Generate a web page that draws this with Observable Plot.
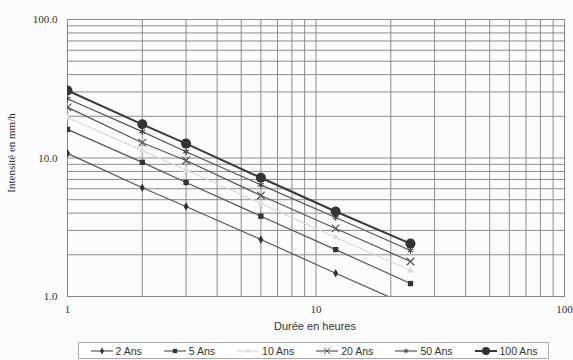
<!DOCTYPE html>
<html><head><meta charset="utf-8">
<script src="https://cdn.jsdelivr.net/npm/d3@7"></script>
<script src="https://cdn.jsdelivr.net/npm/@observablehq/plot@0.6"></script>
<style>
body{margin:0;background:#fcfcfc;width:573px;height:360px;overflow:hidden;position:relative}
#chart svg{background:transparent;display:block}
#chart svg g[aria-label$="tick label"] text, #chart svg g[aria-label$="tick label"]{font-family:"Liberation Serif",serif !important;font-size:11px !important}
#legend{position:absolute;left:78px;top:342px;width:471px;height:17px;border:1px solid #aaa;box-sizing:border-box;display:flex;align-items:center;justify-content:space-around;font:10.5px "Liberation Sans",Arial,sans-serif;color:#333;background:#fff}
#legend span{display:flex;align-items:center;white-space:nowrap}
.ylab{font-family:"Liberation Serif",serif;font-size:11px;fill:#333}
.xlab{font-family:"Liberation Sans",sans-serif;font-size:11px;fill:#333}
</style></head><body>
<div id="chart"></div><div id="legend"></div>
<script>
const durations = [1, 2, 3, 6, 12, 24];
const seriesNames = ["2 Ans", "5 Ans", "10 Ans", "20 Ans", "50 Ans", "100 Ans"];
const ans2   = [10.8, 6.1, 4.47, 2.58, 1.47, 0.85];
const ans5   = [16.1, 9.3, 6.65, 3.8, 2.18, 1.24];
const ans10  = [19.6, 11.3, 8.2, 4.7, 2.67, 1.54];
const ans20  = [23.2, 12.9, 9.6, 5.36, 3.1, 1.79];
const ans50  = [26.8, 15.5, 11.1, 6.4, 3.72, 2.15];
const ans100 = [30.7, 17.5, 12.7, 7.2, 4.11, 2.41];
const xTicks = [1, 10, 100];
const yTicks = [1, 10, 100];
const xGrid = [1,2,3,4,5,6,7,8,9,10,20,30,40,50,60,70,80,90,100];
const yGrid = [1,2,3,4,5,6,7,8,9,10,20,30,40,50,60,70,80,90,100];

const values = [ans2, ans5, ans10, ans20, ans50, ans100];
const styles = [
  {symbol: "diamond", r: 2.6, fill: "#333", stroke: "none", line: "#555", width: 1.2},
  {symbol: "square", r: 3, fill: "#333", stroke: "none", line: "#555", width: 1.2},
  {symbol: "triangle", r: 2.5, fill: "#ddd", stroke: "none", line: "#dadada", width: 1.2},
  {symbol: "times", r: 3.5, fill: "none", stroke: "#555", line: "#555", width: 1.2},
  {symbol: "asterisk", r: 3, fill: "none", stroke: "#444", line: "#555", width: 1.2},
  {symbol: "circle", r: 5, fill: "#333", stroke: "none", line: "#3a3a3a", width: 2}
];

const serif = "Liberation Serif";
const marks = [
  Plot.ruleX(xGrid, {stroke: "#8c8c8c", strokeWidth: 1, strokeOpacity: 1}),
  Plot.ruleY(yGrid, {stroke: "#8c8c8c", strokeWidth: 1, strokeOpacity: 1}),
  Plot.frame({stroke: "#888"})
];
seriesNames.forEach((name, i) => {
  const data = durations.map((d, j) => ({d, v: values[i][j], s: name}));
  const st = styles[i];
  marks.push(Plot.line(data, {x: "d", y: "v", stroke: st.line, strokeWidth: st.width, clip: true}));
  marks.push(Plot.dot(data, {x: "d", y: "v", symbol: () => st.symbol, r: st.r, fill: st.fill, stroke: st.stroke, strokeWidth: 1.2, clip: true}));
});

const chart = Plot.plot({
  width: 573,
  height: 335,
  marginLeft: 67,
  marginRight: 9,
  marginTop: 19,
  marginBottom: 39,
  style: {fontFamily: serif, fontSize: "11px", color: "#333", background: "transparent"},
  x: {type: "log", domain: [1, 100], label: null},
  y: {type: "log", domain: [1, 100], label: null},
  marks: [
    ...marks,
    Plot.axisX({ticks: xTicks, tickFormat: d => String(d), tickSize: 0, tickPadding: 9, label: null, fontFamily: serif, fontSize: 11}),
    Plot.axisY({ticks: yTicks, tickFormat: d => d.toFixed(1), tickSize: 0, tickPadding: 10, label: null, fontFamily: serif, fontSize: 11})
  ]
});
document.getElementById("chart").appendChild(chart);

// axis titles as real text in the SVG
const ns = "http://www.w3.org/2000/svg";
const xl = document.createElementNS(ns, "text");
xl.setAttribute("x", 315); xl.setAttribute("y", 330);
xl.setAttribute("text-anchor", "middle");
xl.setAttribute("class", "xlab");
xl.textContent = "Durée en heures";
chart.appendChild(xl);
const yl = document.createElementNS(ns, "text");
yl.setAttribute("transform", "translate(15,153) rotate(-90)");
yl.setAttribute("text-anchor", "middle");
yl.setAttribute("class", "ylab");
yl.textContent = "Intensité en mm/h";
chart.appendChild(yl);

// legend
const leg = document.getElementById("legend");
seriesNames.forEach((name, i) => {
  const st = styles[i];
  const sp = document.createElement("span");
  const sym = d3.symbol(
    {diamond: d3.symbolDiamond, square: d3.symbolSquare, triangle: d3.symbolTriangle, times: d3.symbolTimes, asterisk: d3.symbolAsterisk, circle: d3.symbolCircle}[st.symbol],
    Math.PI * (st.r * 0.8) ** 2)();
  sp.innerHTML = `<svg width="24" height="10" style="margin-right:2px"><line x1="1" x2="23" y1="5" y2="5" stroke="${st.line}" stroke-width="${st.width}"/><path transform="translate(12,5)" d="${sym}" fill="${st.fill}" stroke="${st.stroke}" stroke-width="1"/></svg>${name}`;
  leg.appendChild(sp);
});
</script>
</body></html>
